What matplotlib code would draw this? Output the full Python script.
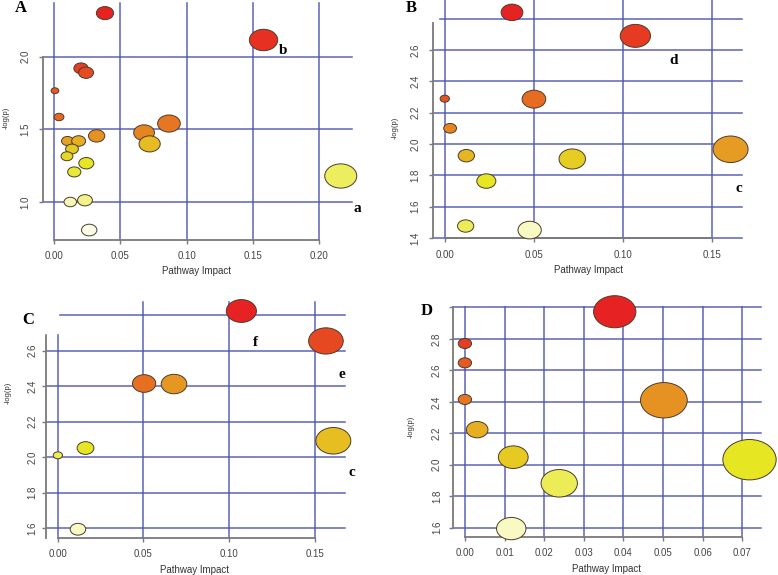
import colorsys
import numpy as np
import matplotlib
matplotlib.use("Agg")
import matplotlib.pyplot as plt
from matplotlib.path import Path
from matplotlib.patches import Rectangle

# --- data (Pathway impact vs -log(p)) ---
a_impact = [0.0383, 0.158, 0.0202, 0.024, 0.0005, 0.0036, 0.032, 0.0678, 0.0866, 0.072,
            0.010, 0.0184, 0.0134, 0.0096, 0.0242, 0.0151, 0.2163, 0.0121, 0.0232, 0.0264]
a_logp = [2.30, 2.115, 1.92, 1.89, 1.766, 1.585, 1.455, 1.477, 1.54, 1.40,
          1.42, 1.42, 1.365, 1.315, 1.267, 1.207, 1.179, 1.0, 1.012, 0.807]

b_impact = [0.0377, 0.1069, 0.0, 0.050, 0.003, 0.0121, 0.0715, 0.1603, 0.0233, 0.0117, 0.0476]
b_logp = [2.84, 2.69, 2.289, 2.286, 2.10, 1.925, 1.904, 1.966, 1.763, 1.476, 1.45]

c_impact = [0.107, 0.1562, 0.0504, 0.0678, 0.1605, 0.0002, 0.0163, 0.0119]
c_logp = [2.824, 2.655, 2.415, 2.412, 2.092, 2.010, 2.051, 1.593]

d_impact = [0.0378, 0.0, 0.0, 0.0, 0.0031, 0.0122, 0.0238, 0.0117, 0.0502, 0.0718]
d_logp = [2.973, 2.771, 2.648, 2.415, 2.223, 2.048, 1.882, 1.594, 2.410, 2.032]

a_xticks = [0.0, 0.05, 0.10, 0.15, 0.20]
a_yticks = [1.0, 1.5, 2.0]
bc_xticks = [0.0, 0.05, 0.10, 0.15]
b_ygrid = [1.4, 1.6, 1.8, 2.0, 2.2, 2.4, 2.6, 2.8]
b_yticks = [1.4, 1.6, 1.8, 2.0, 2.2, 2.4, 2.6]
c_ygrid = [1.6, 1.8, 2.0, 2.2, 2.4, 2.6, 2.8]
c_yticks = [1.6, 1.8, 2.0, 2.2, 2.4, 2.6]
d_xticks = [0.0, 0.01, 0.02, 0.03, 0.04, 0.05, 0.06, 0.07]
d_ygrid = [1.6, 1.8, 2.0, 2.2, 2.4, 2.6, 2.8, 3.0]
d_yticks = [1.6, 1.8, 2.0, 2.2, 2.4, 2.6, 2.8]

W, H = 778, 575
GRID = '#4b52b0'
AXC = '#7a7a7a'
SANS = 'Liberation Sans'
SERIF = 'Liberation Serif'

# ellipse marker (the source image is stretched horizontally)
ASPECT = 1.32
circ = Path.unit_circle()
ELL = Path(circ.vertices * np.array([ASPECT, 1.0]), circ.codes)


def heat_colors(n):
    # same scheme as R's heat.colors(), slightly faded like the print
    j = n // 4
    i = n - j
    hs = [(h, 1.0) for h in np.linspace(0, 1 / 6, i)]
    if j > 0:
        hs += [(1 / 6, s) for s in np.linspace(1 - 1 / (2 * j), 1 / (2 * j), j)]
    out = []
    for h, s in hs:
        s2 = s * 0.85
        v = 0.9 + 0.1 * (1 - s)
        out.append(colorsys.hsv_to_rgb(h, s2, v))
    return out


def point_colors(logp):
    logp = np.asarray(logp)
    order = np.argsort(-logp, kind='stable')
    pal = heat_colors(len(logp))
    cols = [None] * len(logp)
    for rank, idx in enumerate(order):
        cols[idx] = pal[rank]
    return cols


def px_axes(fig, l, t, r, b):
    return fig.add_axes([l / W, 1 - b / H, (r - l) / W, (b - t) / H])


def panel(fig, box, xlim, ylim, impact, logp, wmin, wmax, xgrid, ygrid,
          xticks, xlabels, yticks, ybounds, xpad, ypad):
    ax = px_axes(fig, *box)
    ax.set_xlim(xlim)
    ax.set_ylim(ylim)
    for g in xgrid:
        ax.axvline(g, color=GRID, lw=1.1, alpha=0.9, zorder=1, clip_on=False)
    for g in ygrid:
        ax.axhline(g, color=GRID, lw=1.1, alpha=0.9, zorder=1, clip_on=False)
    imp = np.asarray(impact)
    r = np.sqrt(np.abs(imp)) / np.sqrt(imp.max())
    wpx = wmin + (wmax - wmin) * r
    sizes = (wpx * 0.72) ** 2
    ax.scatter(impact, logp, s=sizes, marker=ELL, c=point_colors(logp),
               edgecolors='#4d3b2a', linewidths=0.7, zorder=3, clip_on=False)
    for side in ['top', 'right']:
        ax.spines[side].set_visible(False)
    for side in ['left', 'bottom']:
        ax.spines[side].set_color(AXC)
        ax.spines[side].set_linewidth(1.3)
    ax.spines['bottom'].set_bounds(xticks[0], xticks[-1])
    ax.spines['left'].set_bounds(*ybounds)
    ax.set_xticks(xticks)
    ax.set_xticklabels(xlabels, fontsize=7, color='#444444', family=SANS)
    ax.set_yticks(yticks)
    ax.set_yticklabels([f'{v:.1f}' for v in yticks], fontsize=7, color='#444444',
                       family=SANS, rotation=90, va='center')
    ax.tick_params(axis='x', length=3, width=1, color=AXC, pad=xpad)
    ax.tick_params(axis='y', length=3, width=1, color=AXC, pad=ypad)
    ax.patch.set_alpha(0)
    return ax


fig = plt.figure(figsize=(W / 100, H / 100), dpi=100)

fmt2 = lambda ts: [f'{t:.2f}' for t in ts]

panel(fig, (43, 3, 352, 240), (-0.0085, 0.2248), (0.7385, 2.3696),
      a_impact, a_logp, 6.5, 32, a_xticks, a_yticks, a_xticks, fmt2(a_xticks),
      a_yticks, (1.0, 2.0), 5, 6)
panel(fig, (433, 0, 742, 238), (-0.0066, 0.1667), (1.3995, 2.919),
      b_impact, b_logp, 9.3, 35, bc_xticks, b_ygrid, bc_xticks, fmt2(bc_xticks),
      b_yticks, (1.4, 2.77), 6, 6)
panel(fig, (46, 302, 345, 538), (-0.0067, 0.1673), (1.5436, 2.8747),
      c_impact, c_logp, 8.3, 35, bc_xticks, c_ygrid, bc_xticks, fmt2(bc_xticks),
      c_yticks, (1.5436, 2.69), 5, 3)
panel(fig, (453, 307, 761, 537), (-0.003, 0.0747), (1.5405, 3.003),
      d_impact, d_logp, 13.3, 53.3, d_xticks, d_ygrid, d_xticks, fmt2(d_xticks),
      d_yticks + [3.0], (1.6, 3.0), 5, 5)

# white patches where the panels were pasted over each other
fig.patches.append(Rectangle((388 / W, 1 - 20 / H), 50 / W, 20 / H,
                             transform=fig.transFigure, color='white', zorder=5))
fig.patches.append(Rectangle((0, 1 - 333 / H), 58 / W, 48 / H,
                             transform=fig.transFigure, color='white', zorder=5))
fig.patches.append(Rectangle((420 / W, 1 - 320 / H), 28 / W, 26 / H,
                             transform=fig.transFigure, color='white', zorder=5))


def ftext(x, y, s, **kw):
    fig.text(x / W, 1 - y / H, s, ha='center', va='center', zorder=6, **kw)


# axis titles
for x, y in [(197, 271), (588, 270), (195, 570), (607, 569)]:
    ftext(x, y, 'Pathway Impact', fontsize=7, color='#333333', family=SANS)
for x, y in [(6, 118), (395, 128), (8, 393), (411, 427)]:
    ftext(x, y, '-log(p)', fontsize=5.5, color='#333333', family=SANS, rotation=90)

# panel letters and annotations
for x, y, s in [(21, 8, 'A'), (411, 8, 'B'), (28, 320, 'C'), (427, 311, 'D')]:
    ftext(x, y, s, fontsize=12, fontweight='bold', family=SERIF)
for x, y, s in [(283, 51, 'b'), (357, 209, 'a'), (674, 60, 'd'), (739, 189, 'c'),
                (255, 342, 'f'), (342, 375, 'e'), (352, 473, 'c')]:
    ftext(x, y, s, fontsize=11, fontweight='bold', family=SERIF)

fig.savefig('out.png', dpi=100)
